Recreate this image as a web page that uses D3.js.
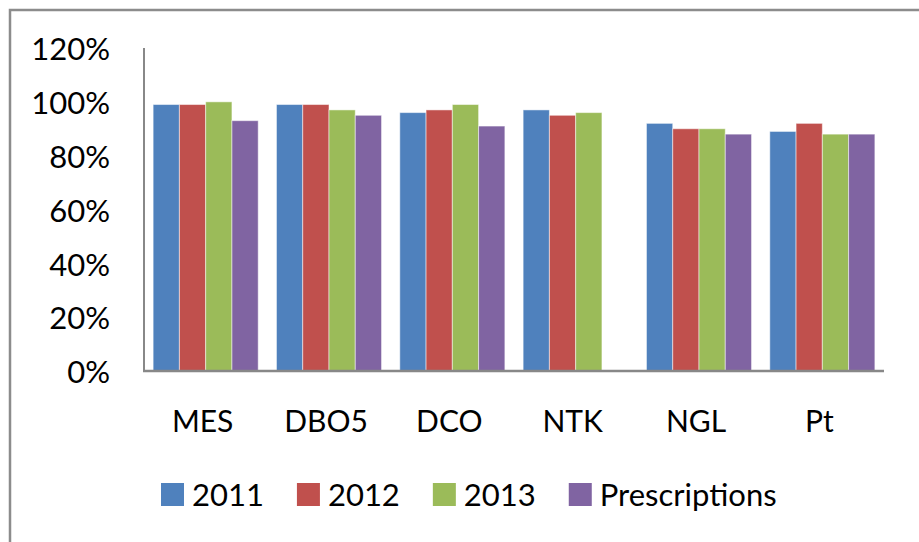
<!DOCTYPE html>
<html>
<head>
<meta charset="utf-8">
<script src="https://cdn.jsdelivr.net/npm/d3@7"></script>
<style>
  body { margin: 0; background: #fff; }
  text { font-family: Lato, "Open Sans", sans-serif; fill: #000; }
</style>
</head>
<body>
<div id="chart"></div>
<script>
const width = 919, height = 542;

// data
const categories = ["MES", "DBO5", "DCO", "NTK", "NGL", "Pt"];
const seriesNames = ["2011", "2012", "2013", "Prescriptions"];
const colors = ["#4F81BD", "#C0504D", "#9BBB59", "#8064A2"];
const v2011 = [0.99, 0.99, 0.96, 0.97, 0.92, 0.89];
const v2012 = [0.99, 0.99, 0.97, 0.95, 0.90, 0.92];
const v2013 = [1.00, 0.97, 0.99, 0.96, 0.90, 0.88];
const vPresc = [0.93, 0.95, 0.91, null, 0.88, 0.88];
const yTicks = [0, 0.2, 0.4, 0.6, 0.8, 1.0, 1.2];

const values = [v2011, v2012, v2013, vPresc];

const svg = d3.select("#chart").append("svg")
    .attr("width", width)
    .attr("height", height);

// outer chart frame (runs off the right / bottom edge)
svg.append("rect")
    .attr("x", 10).attr("y", 10)
    .attr("width", width + 20).attr("height", height + 20)
    .attr("fill", "none")
    .attr("stroke", "#8c8c8c")
    .attr("stroke-width", 2.5);

const y = d3.scaleLinear().domain([0, 1.2]).range([371, 48]);
const x0 = d3.scaleBand().domain(categories).range([144, 884])
    .paddingInner(0.148).paddingOuter(0.074);
const x1 = d3.scaleBand().domain(seriesNames).range([0, x0.bandwidth()]);

// y tick labels, no tick marks
const yAxis = d3.axisLeft(y).tickValues(yTicks)
    .tickFormat(d3.format(".0%")).tickSize(0).tickPadding(0);
const gy = svg.append("g").attr("transform", "translate(110,0)").call(yAxis);
gy.select(".domain").remove();
gy.selectAll("text")
    .attr("font-size", 31)
    .attr("dy", "0.38em");

// bars
const groups = svg.append("g").selectAll("g")
    .data(categories)
    .join("g")
    .attr("transform", d => "translate(" + x0(d) + ",0)");

groups.selectAll("rect")
    .data((c, i) => seriesNames.map((s, j) => ({ s: s, j: j, v: values[j][i] })).filter(d => d.v != null))
    .join("rect")
    .attr("x", d => x1(d.s))
    .attr("y", d => y(d.v))
    .attr("width", x1.bandwidth())
    .attr("height", d => y(0) - y(d.v))
    .attr("fill", d => colors[d.j])
    .attr("stroke", "#ffffff")
    .attr("stroke-opacity", 0.5)
    .attr("stroke-width", 1);

// axis lines
svg.append("line")
    .attr("x1", 144).attr("x2", 144)
    .attr("y1", y(1.2)).attr("y2", y(0))
    .attr("stroke", "#888").attr("stroke-width", 2);
svg.append("line")
    .attr("x1", 143).attr("x2", 884)
    .attr("y1", y(0)).attr("y2", y(0))
    .attr("stroke", "#888").attr("stroke-width", 2.5);

// category labels
svg.append("g").selectAll("text")
    .data(categories)
    .join("text")
    .attr("x", d => x0(d) + x0.bandwidth() / 2 - 3)
    .attr("y", 432)
    .attr("text-anchor", "middle")
    .attr("font-size", 30)
    .text(d => d);

// legend
const legend = svg.append("g");
let lx = 161;
seriesNames.forEach((s, i) => {
    legend.append("rect")
        .attr("x", lx).attr("y", 483)
        .attr("width", 23).attr("height", 23)
        .attr("fill", colors[i]);
    const t = legend.append("text")
        .attr("x", lx + 31).attr("y", 506)
        .attr("font-size", 31)
        .text(s);
    lx += 31 + t.node().getComputedTextLength() + 33;
});
</script>
</body>
</html>
